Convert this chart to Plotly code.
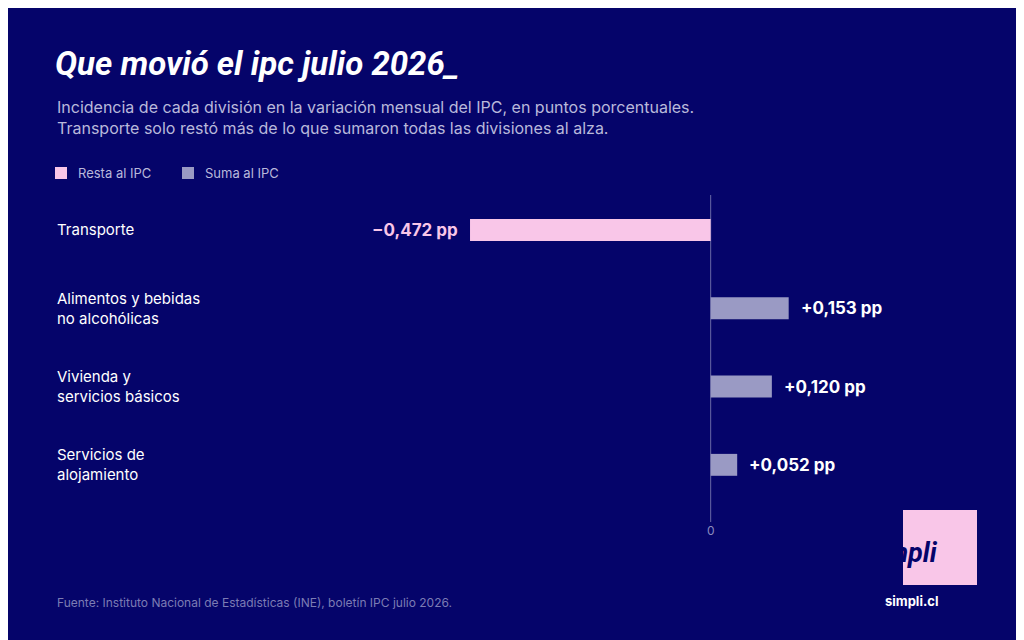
import plotly.graph_objects as go

categorias = ["Transporte", "Alimentos y bebidas<br>no alcohólicas", "Vivienda y<br>servicios básicos", "Servicios de<br>alojamiento"]
valores = [-0.472, 0.153, 0.120, 0.052]
etiquetas = ["−0,472 pp", "+0,153 pp", "+0,120 pp", "+0,052 pp"]

BG = "#05046a"
PINK = "#f9c6e8"
GREY = "#9a9ac4"
OFF = 8
W, H = 1024, 640
L, R, T, B = 340 - OFF, 90 + OFF, 190 - OFF, 118 + OFF
pw = W - L - R
ph = H - T - B

def px(xp):
    return (xp - OFF - L) / pw

def py(yp):
    return 1 - (yp - OFF - T) / ph

ypos = list(range(len(categorias)))
colors = [PINK if v < 0 else GREY for v in valores]

fig = go.Figure(go.Bar(x=valores, y=ypos, orientation="h", width=0.28,
                       marker=dict(color=colors, line=dict(width=0)),
                       hoverinfo="skip"))

ann = []
for i, (v, t, c) in enumerate(zip(valores, etiquetas, categorias)):
    ann.append(dict(x=v, y=i, xref="x", yref="y", text="<b>%s</b>" % t, showarrow=False,
                    xanchor="right" if v < 0 else "left", xshift=-10 if v < 0 else 10,
                    font=dict(size=17, color=PINK if v < 0 else "#ffffff", family="Inter")))
    ann.append(dict(x=px(55), y=i, xref="paper", yref="y", text=c, showarrow=False,
                    xanchor="left", align="left", font=dict(size=15, color="#ffffff", family="Inter")))

ann += [
    dict(x=px(53), y=py(63), xref="paper", yref="paper", text="<b><i>Que movió el ipc julio 2026_</i></b>",
         showarrow=False, xanchor="left", yanchor="middle",
         font=dict(size=33, color="#ffffff", family="Roboto")),
    dict(x=px(55), y=py(118), xref="paper", yref="paper",
         text="Incidencia de cada división en la variación mensual del IPC, en puntos porcentuales.<br>Transporte solo restó más de lo que sumaron todas las divisiones al alza.",
         showarrow=False, xanchor="left", yanchor="middle", align="left",
         font=dict(size=16, color="#b9b9db", family="Inter")),
    dict(x=px(76), y=py(173), xref="paper", yref="paper", text="Resta al IPC", showarrow=False,
         xanchor="left", yanchor="middle", font=dict(size=13, color="#b9b9db", family="Inter")),
    dict(x=px(203), y=py(173), xref="paper", yref="paper", text="Suma al IPC", showarrow=False,
         xanchor="left", yanchor="middle", font=dict(size=13, color="#b9b9db", family="Inter")),
    dict(x=px(55), y=py(602), xref="paper", yref="paper",
         text="Fuente: Instituto Nacional de Estadísticas (INE), boletín IPC julio 2026.", showarrow=False,
         xanchor="left", yanchor="middle", font=dict(size=12, color="#7c7cb4", family="Inter")),
    dict(x=px(940), y=py(553), xref="paper", yref="paper", text="<b><i>simpli</i></b>", showarrow=False,
         yanchor="middle", font=dict(size=27, color=BG, family="Roboto")),
    dict(x=px(940), y=py(601), xref="paper", yref="paper", text="<b>simpli.cl</b>", showarrow=False,
         yanchor="middle", font=dict(size=13, color="#ffffff", family="Inter")),
]

shapes = [
    dict(type="rect", xref="paper", yref="paper", x0=px(55), x1=px(67), y0=py(167), y1=py(179),
         fillcolor=PINK, line=dict(width=0)),
    dict(type="rect", xref="paper", yref="paper", x0=px(182), x1=px(194), y0=py(167), y1=py(179),
         fillcolor=GREY, line=dict(width=0)),
    dict(type="rect", xref="paper", yref="paper", x0=px(903), x1=px(977), y0=py(510), y1=py(585),
         fillcolor=PINK, line=dict(width=0), layer="below"),
    dict(type="line", xref="x", yref="paper", x0=0, x1=0, y0=0, y1=py(195),
         line=dict(color="#6a6aa6", width=1), layer="below"),
]

fig.update_layout(
    width=W, height=H, paper_bgcolor=BG, plot_bgcolor="rgba(0,0,0,0)",
    margin=dict(l=L, r=R, t=T, b=B), showlegend=False,
    xaxis=dict(range=[-0.727, 0.438], tickvals=[0], ticktext=["0"], showgrid=False, zeroline=False,
               tickfont=dict(size=12, color="#8a8abf", family="Inter"), ticks="", fixedrange=True),
    yaxis=dict(range=[3.73, -0.51], showticklabels=False, showgrid=False, zeroline=False, fixedrange=True),
    annotations=ann, shapes=shapes,
)
fig.write_html("out.html")
